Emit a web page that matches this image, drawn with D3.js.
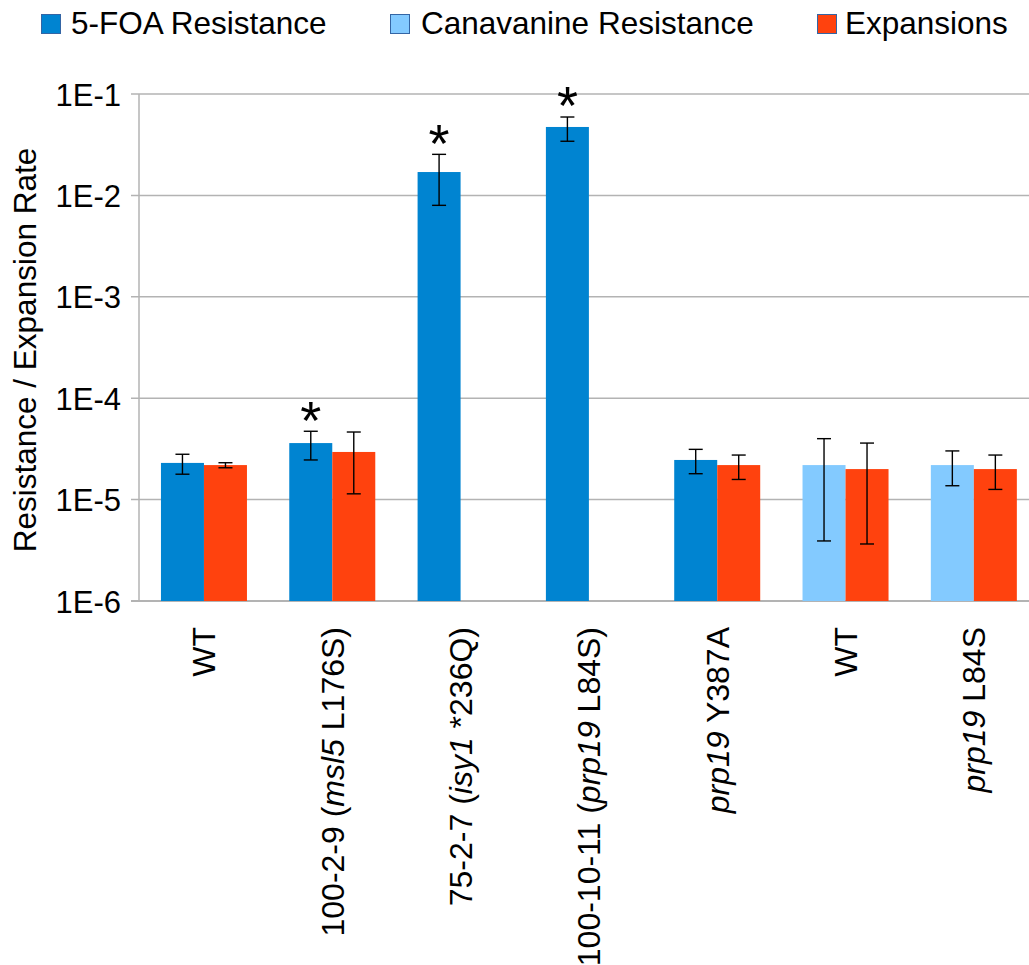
<!DOCTYPE html>
<html>
<head>
<meta charset="utf-8">
<script src="https://cdn.jsdelivr.net/npm/d3@7"></script>
<style>
  html, body { margin: 0; padding: 0; background: #fff; }
  svg { display: block; font-family: "Liberation Sans", Arial, sans-serif; }
</style>
</head>
<body>
<svg id="chart" width="1029" height="965"></svg>
<script>
// Strain labels: plain and italic parts of each category name
const categories = ["WT", "100-2-9", "75-2-7", "100-10-11", "Y387A", "WT-can", "L84S"];
const categoryLabels = [
  [["WT", false]],
  [["100-2-9 (", false], ["msl5", true], [" L176S)", false]],
  [["75-2-7 (", false], ["isy1", true], [" *236Q)", false]],
  [["100-10-11 (", false], ["prp19", true], [" L84S)", false]],
  [["prp19", true], [" Y387A", false]],
  [["WT", false]],
  [["prp19", true], [" L84S", false]]
];

// Series values (rate), with error bar ranges
const foaRate   = [2.30e-5, 3.61e-5, 1.70e-2, 4.73e-2, 2.46e-5, null, null];
const foaLow    = [1.78e-5, 2.46e-5, 7.98e-3, 3.42e-2, 1.80e-5, null, null];
const foaHigh   = [2.80e-5, 4.72e-5, 2.54e-2, 5.93e-2, 3.13e-5, null, null];
const foaSignificant = [false, true, true, true, false, false, false];

const canRate   = [null, null, null, null, null, 2.19e-5, 2.19e-5];
const canLow    = [null, null, null, null, null, 3.91e-6, 1.37e-5];
const canHigh   = [null, null, null, null, null, 3.99e-5, 3.02e-5];

const expRate   = [2.19e-5, 2.95e-5, null, null, 2.19e-5, 2.00e-5, 2.00e-5];
const expLow    = [2.06e-5, 1.14e-5, null, null, 1.58e-5, 3.65e-6, 1.26e-5];
const expHigh   = [2.31e-5, 4.64e-5, null, null, 2.75e-5, 3.61e-5, 2.75e-5];

const tickValues = [1e-6, 1e-5, 1e-4, 1e-3, 1e-2, 1e-1];
const tickLabels = ["1E-6", "1E-5", "1E-4", "1E-3", "1E-2", "1E-1"];

const seriesNames = ["5-FOA Resistance", "Canavanine Resistance", "Expansions"];
const colors = { foa: "#0084d1", can: "#83caff", exp: "#ff420e" };

const svg = d3.select("#chart");
const plot = { left: 139.8, right: 1038, top: 94, bottom: 601 };

const x = d3.scaleBand().domain(categories).range([plot.left, plot.right]);
const slot = d3.scaleBand().domain([0, 1]).range([0, x.bandwidth()]).paddingOuter(0.492);
const y = d3.scaleLog().domain([1e-6, 1e-1]).range([plot.bottom, plot.top]);

// Gridlines
const grid = svg.append("g");
tickValues.forEach(v => {
  grid.append("line")
    .attr("x1", 131).attr("x2", 1029)
    .attr("y1", y(v)).attr("y2", y(v))
    .attr("stroke", "#b3b3b3").attr("stroke-width", v === 1e-6 ? 2 : 1.5);
});
grid.append("line")
  .attr("x1", 139).attr("x2", 139)
  .attr("y1", y(1e-1)).attr("y2", y(1e-6))
  .attr("stroke", "#b3b3b3").attr("stroke-width", 1.5);

// Y axis labels
const yAxis = d3.axisLeft(y).tickValues(tickValues)
  .tickFormat((d, i) => tickLabels[i]).tickSize(0).tickPadding(0);
const yg = svg.append("g").attr("transform", "translate(121,0)").call(yAxis);
yg.select(".domain").remove();
yg.selectAll("text")
  .attr("font-family", "Liberation Sans, Arial, sans-serif")
  .attr("font-size", 31).attr("fill", "#000").attr("dy", "0.36em").attr("x", 0);

// Axis title
svg.append("text")
  .attr("transform", "translate(36,350) rotate(-90)")
  .attr("text-anchor", "middle")
  .attr("font-size", 31.5).attr("fill", "#000")
  .text("Resistance / Expansion Rate");

// Build bar records
const bars = [];
categories.forEach((c, i) => {
  if (foaRate[i] != null) bars.push({ c, s: 0, v: foaRate[i], lo: foaLow[i], hi: foaHigh[i], color: colors.foa, star: foaSignificant[i] });
  if (canRate[i] != null) bars.push({ c, s: 0, v: canRate[i], lo: canLow[i], hi: canHigh[i], color: colors.can, star: false });
  if (expRate[i] != null) bars.push({ c, s: 1, v: expRate[i], lo: expLow[i], hi: expHigh[i], color: colors.exp, star: false });
});

svg.append("g").selectAll("rect").data(bars).join("rect")
  .attr("x", d => x(d.c) + slot(d.s))
  .attr("width", slot.bandwidth())
  .attr("y", d => y(d.v))
  .attr("height", d => y(1e-6) - y(d.v))
  .attr("fill", d => d.color);

// Error bars
const eb = svg.append("g").attr("stroke", "#000").attr("stroke-width", 1.4);
bars.forEach(d => {
  const cx = x(d.c) + slot(d.s) + slot.bandwidth() / 2;
  eb.append("line").attr("x1", cx).attr("x2", cx).attr("y1", y(d.hi)).attr("y2", y(d.lo));
  eb.append("line").attr("x1", cx - 7).attr("x2", cx + 7).attr("y1", y(d.hi)).attr("y2", y(d.hi));
  eb.append("line").attr("x1", cx - 7).attr("x2", cx + 7).attr("y1", y(d.lo)).attr("y2", y(d.lo));
});

// Significance markers above the error bar caps
const starSize = 54;
svg.append("g").selectAll("text").data(bars.filter(d => d.star)).join("text")
  .attr("x", d => x(d.c) + slot(d.s) + slot.bandwidth() / 2)
  .attr("y", d => y(d.hi) - 18 + 0.47 * starSize)
  .attr("text-anchor", "middle")
  .attr("font-size", starSize).attr("fill", "#000")
  .text("*");

// Category labels (rotated)
const lab = svg.append("g");
categories.forEach((c, i) => {
  const cx = x(c) + x.bandwidth() / 2;
  const t = lab.append("text")
    .attr("transform", `translate(${cx},627) rotate(-90)`)
    .attr("text-anchor", "end")
    .attr("dy", "0.36em")
    .attr("font-size", 32).attr("fill", "#000");
  categoryLabels[i].forEach(([txt, it]) => {
    t.append("tspan").attr("font-style", it ? "italic" : "normal").text(txt);
  });
});

// Legend
const legendItems = [
  { name: seriesNames[0], color: colors.foa, sx: 41, tx: 71 },
  { name: seriesNames[1], color: colors.can, sx: 390, tx: 421 },
  { name: seriesNames[2], color: colors.exp, sx: 817, tx: 845 }
];
const lg = svg.append("g");
legendItems.forEach(d => {
  lg.append("rect").attr("x", d.sx + 0.5).attr("y", 14.5).attr("width", 19).attr("height", 19)
    .attr("fill", d.color).attr("stroke", "#3465a4").attr("stroke-width", 1);
  lg.append("text").attr("x", d.tx).attr("y", 34)
    .attr("font-size", 31.5).attr("fill", "#000").text(d.name);
});
</script>
</body>
</html>
